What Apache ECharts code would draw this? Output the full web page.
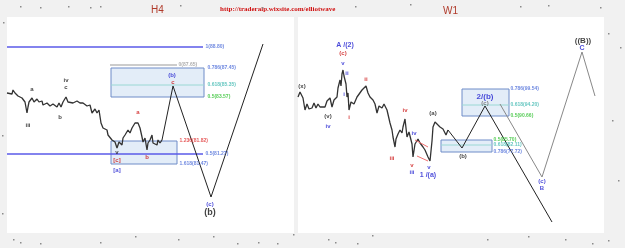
<!DOCTYPE html>
<html><head><meta charset="utf-8">
<script src="https://cdn.jsdelivr.net/npm/echarts@6/dist/echarts.min.js"></script>
<style>html,body{margin:0;padding:0;background:#f1f1f1}#c{width:625px;height:248px}</style>
</head><body><div id="c"></div>
<script>
// ---------- DATA (x = bar position, y = price) ----------
const leftPrice = [[0,84.0],[2,84.2],[5,83.9],[6,84.3],[8,84.0],[10,84.1],[11,83.7],[13,83.9],[15,83.5],[16,83.6],[18,83.1],[20,82.0],[21,82.6],[22,83.1],[24,83.0],[25,83.5],[27,83.1],[30,83.4],[32,83.1],[35,83.2],[36,82.8],[40,83.0],[43,82.7],[46,82.9],[50,82.6],[52,83.0],[54,82.6],[56,83.1],[59,83.6],[61,83.1],[63,83.3],[66,83.0],[70,83.2],[73,83.0],[76,83.0],[80,82.7],[83,82.8],[85,82.0],[88,82.4],[90,82.0],[92,82.3],[94,81.0],[96,80.5],[98,80.5],[100,80.3],[101,79.8],[105,79.3],[108,79.1],[110,78.5],[112,79.1],[115,78.8],[116,79.5],[118,79.8],[121,80.3],[123,80.0],[125,80.5],[126,80.6],[128,81.0],[130,81.2],[131,81.0],[133,80.5],[135,79.6],[136,79.1],[138,79.5],[140,78.3],[141,79.0],[143,79.3],[145,79.8],[146,79.0],[148,79.1],[150,78.8],[151,79.3],[153,79.0],[155,79.3]];
const leftProjection = [[155,79.3],[166,84.7],[204,73.6],[256,88.9]];
const leftHLines = [[0,196,88.6],[0,196,77.9]];          // [x0,x1,price]
const leftGrayLine = [[103,86.8],[170,86.8]];
const leftBoxes = [[104,197,86.5,83.6,84.8],[104,170,79.2,76.9,null]]; // [x0,x1,top,bottom,mid]
const leftFibLabels = [[198,88.6,'1(88.80)'],[200,86.5,'0.786(87.45)'],[200,84.8,'0.618(85.35)'],[200,83.6,'0.5(83.57)'],[172,79.2,'1.236(81.82)'],[198,77.9,'0.5(81.27)'],[172,76.9,'1.618(81.47)'],[171,86.8,'0(87.65)']];
const leftWaveLabels = [[25,84.4,'a'],[21,80.8,'iii'],[59,85.3,'iv'],[59,84.6,'c'],[53,81.6,'b'],[131,82.1,'a'],[165,85.8,'(b)'],[166,85.1,'c'],[110,78.1,'v'],[110,77.3,'[c]'],[140,77.6,'b'],[110,76.3,'[a]'],[203,72.9,'(c)'],[203,72.0,'(b)']];

const rightPrice = [[0,73.6],[2,74.1],[4,74.3],[5,73.5],[7,72.3],[9,72.9],[11,72.4],[14,72.5],[16,73.0],[18,72.5],[20,72.9],[22,72.6],[24,72.8],[27,72.6],[29,73.2],[30,73.0],[32,73.5],[34,72.6],[36,73.3],[39,73.6],[40,74.5],[42,75.3],[43,74.7],[44,75.9],[45,76.3],[46,75.7],[47,75.9],[48,74.9],[49,73.6],[50,74.0],[51,72.3],[53,73.1],[54,73.3],[56,72.9],[59,73.6],[61,73.4],[64,74.3],[66,74.1],[68,74.7],[70,74.0],[72,73.6],[74,73.8],[75,73.3],[77,72.9],[79,72.0],[81,72.7],[84,72.5],[86,72.9],[89,72.3],[91,72.1],[92,71.0],[94,70.3],[95,69.6],[97,68.6],[98,69.4],[100,69.9],[102,70.3],[104,70.0],[105,70.6],[107,71.4],[109,69.6],[111,70.1],[114,68.9],[115,67.6],[117,68.9],[120,69.4],[122,69.0],[125,68.6],[127,68.3],[130,67.6],[132,67.2],[134,69.2],[135,70.6],[137,71.1],[139,70.9],[142,70.6],[145,70.4],[148,69.8],[150,70.3]];
const rightProjBlack = [[150,70.3],[164,68.5],[187,72.7],[254,61.1]];
const rightProjGray = [[202,72.9],[244,65.6],[284,78.1],[297,73.7]];
const rightBoxes = [[164,211,74.4,71.7,72.8],[143,194,69.3,68.1,68.8]];
const rightWedge = [[[117,69.3],[130,68.6]],[[119,67.7],[130,67.2]]];
const rightFibLabels = [[212,74.4,'0.786(99.54)'],[212,72.8,'0.618(94.20)'],[212,71.7,'0.5(90.66)'],[195,69.3,'0.5(85.70)'],[195,68.8,'0.618(82.11)'],[195,68.1,'0.786(77.72)']];
const rightWaveLabels = [[47,78.8,'A /(2)'],[45,78.0,'(c)'],[45,77.0,'v'],[49,76.0,'ii'],[68,75.4,'ii'],[4,74.7,'(x)'],[46,73.9,'i'],[51,71.6,'i'],[30,71.7,'(v)'],[30,70.7,'iv'],[107,72.3,'iv'],[135,72.0,'(a)'],[187,73.6,'2/(b)'],[187,73.0,'(c)'],[165,67.7,'(b)'],[94,67.5,'iii'],[116,70.0,'iv'],[114,66.8,'v'],[114,66.1,'iii'],[131,66.6,'v'],[130,65.8,'1 /(a)'],[244,65.2,'(c)'],[244,64.5,'B'],[285,79.2,'((B))'],[284,78.5,'C']];

// ---------- STYLE ----------
const BLUE='#1c1cd0', RED='#cc1010', BLACK='#111', FB='#4a6ad8', FT='#3db8b0', FG='#30c030', FR='#e03030';
const leftWaveColors = [BLACK,BLACK,BLACK,BLACK,BLACK,RED,BLUE,RED,BLACK,RED,RED,BLUE,BLUE,BLACK];
const leftFibColors = [FB,FB,FT,FG,FR,FB,FB,'#999'];
const rightWaveColors = [BLUE,RED,BLUE,BLUE,RED,BLACK,BLUE,RED,BLACK,BLUE,RED,BLACK,BLUE,'#666',BLACK,RED,BLUE,RED,BLUE,BLUE,BLUE,BLUE,BLUE,BLACK,BLUE];
const rightFibColors = [FB,FT,FG,FG,FT,FB];
// decorative background speckles (page texture, not data)
const speckles = [[20,6],[40,7],[68,6],[90,7],[100,6],[180,5],[262,7],[355,6],[410,4],[520,6],[548,5],[600,7],[13,239],[20,242],[40,243],[100,242],[135,236],[178,239],[213,236],[237,243],[258,242],[277,243],[293,234],[328,239],[335,242],[357,243],[372,235],[487,239],[528,236],[565,239],[592,243],[608,33],[620,47],[608,240],[612,120],[3,22],[2,135],[2,213],[618,180]];

function lineS(idx,data,color,w){return {type:'line',xAxisIndex:idx,yAxisIndex:idx,data:data,symbol:'none',silent:true,lineStyle:{color:color,width:w},z:3};}
function labelS(idx,arr,colors,align,size,big){
  return {type:'scatter',xAxisIndex:idx,yAxisIndex:idx,symbolSize:1,itemStyle:{color:'rgba(0,0,0,0)'},silent:true,z:10,
    data:arr.map((a,i)=>({value:[a[0],a[1]],label:{show:true,formatter:a[2],position:align==='left'?'right':'inside',distance:0,
      color:colors[i],fontSize:(big&&big[a[2]])||size,fontWeight:'bold',fontFamily:'Liberation Sans, Arial, sans-serif',align:align,verticalAlign:'middle'}}))};
}
function boxS(idx,boxes){
  const s=[];
  boxes.forEach(b=>{
    s.push({type:'line',xAxisIndex:idx,yAxisIndex:idx,data:[[b[0],b[2]],[b[1],b[2]],[b[1],b[3]],[b[0],b[3]],[b[0],b[2]]],symbol:'none',silent:true,
      lineStyle:{color:'#6f8cc8',width:1},z:2});
    s.push({type:'line',xAxisIndex:idx,yAxisIndex:idx,data:[],symbol:'none',silent:true,
      markArea:{silent:true,itemStyle:{color:'#e3edf8'},data:[[{coord:[b[0],b[2]]},{coord:[b[1],b[3]]}]]},z:1});
    if(b[4]!==null) s.push(lineS(idx,[[b[0],b[4]],[b[1],b[4]]],'#9ad8d4',1));
  });
  return s;
}
const chart=echarts.init(document.getElementById('c'),null,{renderer:'canvas'});
const series=[];
series.push(...boxS(0,leftBoxes));
series.push(...boxS(1,rightBoxes));
leftHLines.forEach(h=>series.push(lineS(0,[[h[0],h[2]],[h[1],h[2]]],'#5a5ae8',1.5)));
series.push(lineS(0,leftGrayLine,'#bbbbbb',1.5));
series.push(lineS(0,leftPrice,'#333',1.3));
series.push(lineS(0,leftProjection,'#222',1));
series.push(lineS(1,rightPrice,'#333',1.3));
series.push(lineS(1,rightProjBlack,'#222',1));
series.push(lineS(1,rightProjGray,'#888',1));
rightWedge.forEach(w=>series.push(lineS(1,w,'#f07070',1)));
series.push(labelS(0,leftFibLabels,leftFibColors,'left',5));
const lw=labelS(0,leftWaveLabels,leftWaveColors,'center',6,{'(b)':6});
lw.data[13].label.fontSize=9;
series.push(lw);
series.push(labelS(1,rightFibLabels,rightFibColors,'left',5));
series.push(labelS(1,rightWaveLabels,rightWaveColors,'center',6,{'2/(b)':8,'A /(2)':7,'((B))':8,'C':7,'1 /(a)':7}));

const graphics=[
  {type:'text',left:151,top:5,style:{text:'H4',fill:'#b03a2a',font:'10px Liberation Sans'}},
  {type:'text',left:220,top:6,style:{text:'http://traderalp.wixsite.com/elliotwave',fill:'#d01010',font:'bold 7px Liberation Serif'}},
  {type:'text',left:443,top:6,style:{text:'W1',fill:'#b03a2a',font:'10px Liberation Sans'}}
];
speckles.forEach(p=>graphics.push({type:'rect',left:p[0],top:p[1],shape:{width:1.5,height:1.5},style:{fill:'#8a8a8a'},silent:true}));

chart.setOption({
  backgroundColor:'#f1f1f1',animation:false,
  grid:[{left:7,top:17,width:287,height:216,show:true,backgroundColor:'#ffffff',borderWidth:0},
        {left:298,top:17,width:306,height:216,show:true,backgroundColor:'#ffffff',borderWidth:0}],
  xAxis:[{type:'value',gridIndex:0,min:0,max:287,show:false},{type:'value',gridIndex:1,min:0,max:306,show:false}],
  yAxis:[{type:'value',gridIndex:0,min:70,max:91.6,show:false},{type:'value',gridIndex:1,min:60,max:81.6,show:false}],
  graphic:graphics,
  series:series
});
</script></body></html>
